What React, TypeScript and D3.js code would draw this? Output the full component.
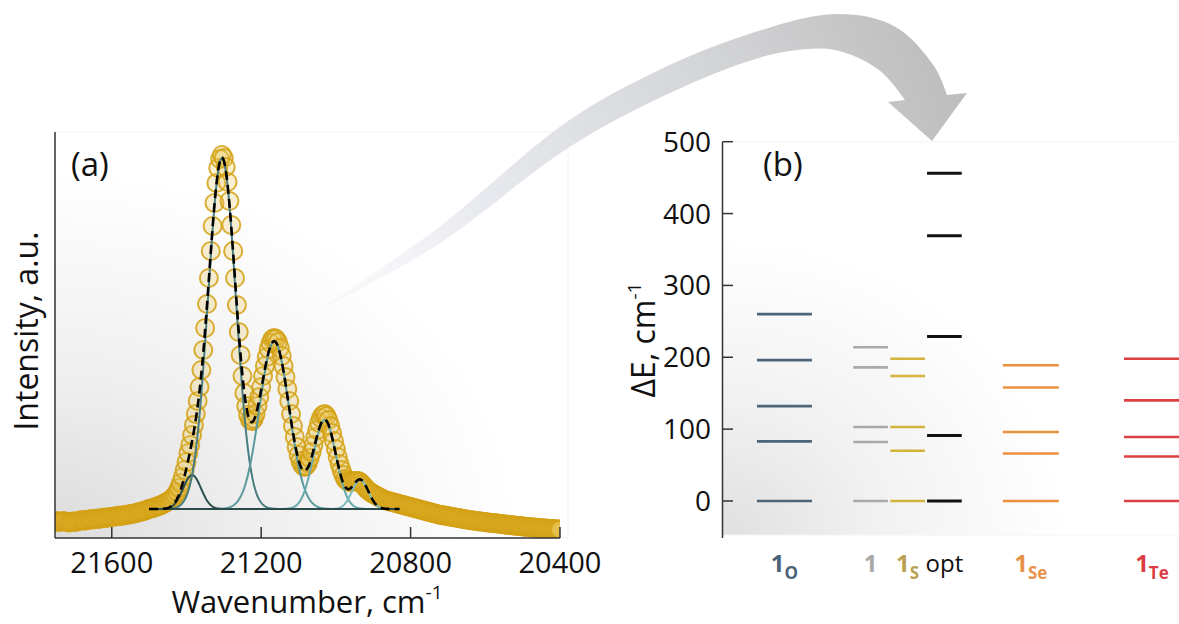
import React from 'react';
import * as d3 from 'd3';

// ---------- Panel (a): measured spectrum (intensity, a.u.) ----------
const wnStart = 21750; // cm-1, first sample
const wnStep = 5; // cm-1 between samples (descending)
const intensity = [
  -12, -12.5, -13, -12.5, -12, -12.5, -13, -13.5, -13, -12.5,
  -12.5, -13, -12, -11.5, -11, -11.5, -11.5, -11, -10.5, -10,
  -10.5, -10, -9.5, -10, -9.5, -9, -8.5, -9, -8.5, -8,
  -8, -7.5, -7.5, -7, -6.5, -7, -6.5, -6, -6, -5.5,
  -5, -5, -4.5, -4, -3.5, -3, -2.5, -2, -1.5, -0.5,
  0, 0.5, 1, 1.5, 2.5, 3, 3.5, 4.5, 5.5, 6.5,
  7.5, 8.5, 10, 12, 14, 17, 21, 26, 32, 39,
  47, 56, 64, 74, 84, 95, 108, 122, 139, 159,
  181, 205, 231, 258, 283, 306, 326, 341, 350, 354,
  351, 342, 327, 308, 284, 258, 231, 204, 177, 154,
  133, 116, 103, 94, 89, 88, 90, 95, 103, 112,
  122, 133, 143, 152, 160, 166, 170, 171, 170, 167,
  161, 153, 143, 132, 120, 108, 95, 83, 72, 62,
  54, 48, 44, 42, 43, 46, 51, 57, 64, 72,
  79, 86, 91, 94, 95, 93, 89, 83, 76, 68,
  60, 52, 45, 39, 34, 30, 28, 27, 27, 27.5,
  28, 28, 28, 27, 25, 23, 21, 19, 17.5, 16,
  15, 14, 13, 12, 11, 10, 9, 8.5, 8, 7.5,
  7, 6.5, 6, 5.5, 5, 4.5, 4, 3.5, 3, 2.5,
  2, 1.5, 1, 0.5, 0, -0.5, -1, -1.5, -2, -2.5,
  -3, -3.5, -4, -4.5, -5, -5.5, -6, -6, -6.5, -7,
  -7, -7.5, -8, -8, -8.5, -9, -9, -9.5, -10, -10,
  -10.5, -11, -11, -11.5, -11.5, -12, -12, -12.5, -12.5, -13,
  -13, -13.5, -13.5, -14, -14, -14, -14.5, -14.5, -15, -15,
  -15.5, -15.5, -16, -16, -16, -16.5, -16.5, -17, -17, -17,
  -17.5, -17.5, -18, -18, -18, -18.5, -18.5, -18.5, -19, -19,
  -19, -19.5, -19.5, -19.5, -20, -20, -20, -20, -20.5, -20.5,
  -20.5,
];

// Gaussian fit components
const peakCenters = [21385, 21305, 21165, 21030, 20935];
const peakAmps = [34, 351, 167.6, 89, 29];
const peakSigmas = [24, 37, 39.5, 30, 22];
const peakColors = ['#2d4f50', '#4a7d80', '#5a999b', '#67a9aa', '#7cbdbd'];
const fitRange = [21500, 20830];

const xTicksA = [21600, 21200, 20800, 20400];

// ---------- Panel (b): energy levels ----------
const catMain = ['1', '1', '1', 'opt', '1', '1'];
const catSub = ['O', '', 'S', '', 'Se', 'Te'];
const catPos = [1.77, 4.23, 5.29, 6.34, 8.81, 12.27];
const catWidth = [1.57, 0.99, 0.99, 0.99, 1.6, 1.6];
const levelValues = [
  [0, 83, 132, 196, 260],
  [0, 82, 103, 186, 214],
  [0, 70, 103, 174, 198],
  [0, 91, 229, 369, 456],
  [0, 66, 96, 158, 189],
  [0, 62, 89, 140, 198],
];
const levelColors = ['#4c6579', '#a9a9a9', '#d3b23e', '#111111', '#ea903e', '#dc4043'];
const labelColors = ['#4a6377', '#a8a8a8', '#b9a152', '#111111', '#e8914a', '#dc3d44'];
const yTicksB = [0, 100, 200, 300, 400, 500];

const FONT = "'Open Sans', 'Noto Sans', sans-serif";

export default function App() {
  const W = 1179;
  const H = 624;

  // panel a scales
  const xA = d3.scaleLinear().domain([21752, 20400]).range([55, 560]);
  const yA = d3.scaleLinear().domain([-29, 374]).range([538, 135]);

  const points = intensity.map((v, i) => ({ w: wnStart - i * wnStep, v }));
  const fitW = d3.range(fitRange[0], fitRange[1] - 0.5, -2);
  const gauss = (w: number, k: number) =>
    peakAmps[k] * Math.exp(-((w - peakCenters[k]) ** 2) / (2 * peakSigmas[k] ** 2));
  const line = d3
    .line<[number, number]>()
    .x((d) => xA(d[0]))
    .y((d) => yA(d[1]));
  const compPaths = peakCenters.map((_, k) =>
    line(fitW.map((w) => [w, gauss(w, k)] as [number, number]))
  );
  const sumPath = line(
    fitW.map((w) => [w, peakCenters.reduce((s, _, k) => s + gauss(w, k), 0)] as [number, number])
  );

  // panel b scales
  const yB = d3.scaleLinear().domain([-51.5, 500]).range([538, 141.7]);
  const xB = d3.scaleLinear().domain([0, 13]).range([722.5, 722.5 + 13 * 35]);

  // arrow outline
  const outer: [number, number][] = [
    [309, 316], [434, 231], [568, 121], [657, 71], [746, 35], [836, 14], [894, 26], [934, 66], [947, 95],
  ];
  const head: [number, number][] = [[967, 93], [932, 141], [888, 102]];
  const inner: [number, number][] = [
    [905, 100], [879, 70], [835, 50], [790, 51], [746, 62], [657, 99], [568, 148], [434, 247], [309, 316],
  ];
  const cr = d3.line().curve(d3.curveCatmullRom.alpha(0.5));
  const arrowPath =
    (cr(outer) as string) +
    head.map((p) => `L${p[0]},${p[1]}`).join('') +
    (cr(inner) as string).replace(/^M/, 'L') +
    'Z';

  return (
    <svg
      width={W}
      height={H}
      viewBox={`0 0 ${W} ${H}`}
      style={{ position: 'absolute', left: 0, top: 0, background: '#fff' }}
      fontFamily={FONT}
    >
      <defs>
        <radialGradient id="bgA" cx="0" cy="1" r="0.9">
          <stop offset="0" stopColor="#dcdcdc" />
          <stop offset="0.45" stopColor="#efefef" />
          <stop offset="1" stopColor="#ffffff" />
        </radialGradient>
        <radialGradient id="bgB" cx="0" cy="1" r="0.75">
          <stop offset="0" stopColor="#e0e0e0" />
          <stop offset="0.45" stopColor="#f1f1f1" />
          <stop offset="1" stopColor="#ffffff" />
        </radialGradient>
        <linearGradient id="arrowGrad" gradientUnits="userSpaceOnUse" x1="309" y1="316" x2="950" y2="70">
          <stop offset="0" stopColor="#f3f4f8" stopOpacity="0.3" />
          <stop offset="0.3" stopColor="#e8e9ee" />
          <stop offset="0.7" stopColor="#d2d3d5" />
          <stop offset="1" stopColor="#bdbdbd" />
        </linearGradient>
        <clipPath id="clipA">
          <rect x={55} y={120} width={505} height={418} />
        </clipPath>
      </defs>

      {/* backgrounds */}
      <rect x={55} y={132} width={513} height={406} fill="url(#bgA)" stroke="#f2f2f2" strokeWidth={1} />
      <rect x={722.5} y={141.7} width={W - 722.5} height={393.3} fill="url(#bgB)" stroke="#f4f4f4" strokeWidth={1} />

      {/* ---------- panel a ---------- */}
      <g clipPath="url(#clipA)">
        {points.map((p, i) => (
          <circle
            key={i}
            cx={xA(p.w)}
            cy={yA(p.v)}
            r={9}
            fill="#e8c350"
            fillOpacity={0.25}
            stroke="#d4a114"
            strokeOpacity={0.85}
            strokeWidth={2}
          />
        ))}
      </g>
      {compPaths.map((d, k) => (
        <path key={k} d={d as string} fill="none" stroke={peakColors[k]} strokeWidth={2} />
      ))}
      <line
        x1={xA(fitRange[0])}
        x2={xA(fitRange[1])}
        y1={yA(0)}
        y2={yA(0)}
        stroke="#2b4a4b"
        strokeWidth={2}
      />
      <path d={sumPath as string} fill="none" stroke="#000" strokeWidth={2.6} strokeDasharray="9 5" />

      {/* axes a */}
      <line x1={55} x2={55} y1={132} y2={538} stroke="#333" strokeWidth={1.5} />
      <line x1={55} x2={560} y1={538} y2={538} stroke="#333" strokeWidth={1.5} />
      {xTicksA.map((t) => (
        <g key={t}>
          <line x1={xA(t)} x2={xA(t)} y1={538} y2={527} stroke="#333" strokeWidth={1.5} />
          <text x={xA(t)} y={573} textAnchor="middle" fontSize={29} fill="#111">
            {t}
          </text>
        </g>
      ))}
      <text x={307} y={613} textAnchor="middle" fontSize={31} fill="#111">
        Wavenumber, cm<tspan fontSize={19} dy={-14}>-1</tspan>
      </text>
      <text transform="translate(38,331) rotate(-90)" textAnchor="middle" fontSize={32} fill="#111">
        Intensity, a.u.
      </text>
      <text x={71} y={176} fontSize={33} fill="#111">
        (a)
      </text>

      {/* ---------- panel b ---------- */}
      {levelValues.map((vals, c) =>
        vals.map((v, j) => (
          <line
            key={`${c}-${j}`}
            x1={xB(catPos[c] - catWidth[c] / 2)}
            x2={xB(catPos[c] + catWidth[c] / 2)}
            y1={yB(v)}
            y2={yB(v)}
            stroke={levelColors[c]}
            strokeWidth={c === 3 ? 3 : 2.6}
          />
        ))
      )}
      <line x1={722.5} x2={722.5} y1={141.7} y2={538} stroke="#333" strokeWidth={1.5} />
      {yTicksB.map((t) => (
        <g key={t}>
          <line x1={722.5} x2={733} y1={yB(t)} y2={yB(t)} stroke="#333" strokeWidth={1.5} />
          <text x={711} y={yB(t) + 10} textAnchor="end" fontSize={28} fill="#111">
            {t}
          </text>
        </g>
      ))}
      <text transform="translate(655,340) rotate(-90)" textAnchor="middle" fontSize={32} fill="#111">
        ΔE, cm<tspan fontSize={19} dy={-14}>-1</tspan>
      </text>
      <text x={763} y={176} fontSize={33} fill="#111">
        (b)
      </text>
      {catMain.map((m, c) => (
        <text
          key={c}
          x={xB(catPos[c])}
          y={572}
          textAnchor="middle"
          fontSize={24}
          fill={labelColors[c]}
          fontWeight={m === 'opt' ? 400 : 700}
        >
          {m}
          {catSub[c] ? (
            <tspan fontSize={17} dy={7}>
              {catSub[c]}
            </tspan>
          ) : null}
        </text>
      ))}

      {/* arrow */}
      <path d={arrowPath} fill="url(#arrowGrad)" />
    </svg>
  );
}
